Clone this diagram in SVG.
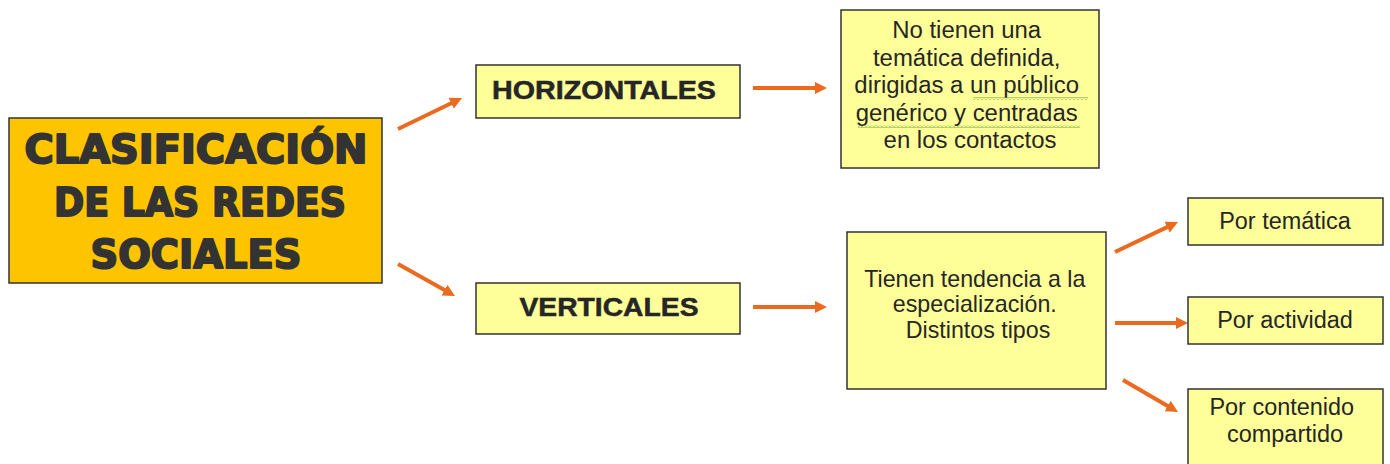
<svg xmlns="http://www.w3.org/2000/svg" width="1390" height="464" viewBox="0 0 1390 464">
<style>
.box{fill:#FFFF99;stroke:#333;stroke-width:1.5}
.main{fill:#FFC400;stroke:#333;stroke-width:1.5}
.t{font-family:"Liberation Sans",Arial,sans-serif;font-size:23px;fill:#262626;text-anchor:middle}
.b{font-family:"Liberation Sans",Arial,sans-serif;font-size:25px;font-weight:bold;fill:#262626;stroke:#262626;stroke-width:0.5;text-anchor:middle}
.h{font-family:"DejaVu Sans",sans-serif;font-size:39px;font-weight:bold;fill:#333;stroke:#333;stroke-width:2;stroke-linejoin:round;text-anchor:middle}
.arr{stroke:#EA6A1F;stroke-width:4;fill:none;marker-end:url(#ah)}
</style>
<defs>
<marker id="ah" viewBox="0 0 12 12" markerWidth="12" markerHeight="12" refX="4" refY="6" orient="auto" markerUnits="userSpaceOnUse">
<path d="M0,0 L12,6 L0,12 z" fill="#EA6A1F"/>
</marker>
<pattern id="wave" width="4" height="3" patternUnits="userSpaceOnUse">
<path d="M0,2.5 L2,0.5 L4,2.5" stroke="#5f9a2e" fill="none" stroke-width="0.9"/>
</pattern>
</defs>
<rect width="1390" height="464" fill="#fff"/>

<g id="connectors">
<line class="arr" x1="398" y1="129" x2="454.8" y2="101.5"/>
<line class="arr" x1="398" y1="264" x2="448" y2="292.1"/>
<line class="arr" x1="753" y1="88" x2="819" y2="88"/>
<line class="arr" x1="753" y1="307" x2="819" y2="307"/>
<line class="arr" x1="1115" y1="252" x2="1170.8" y2="225.4"/>
<line class="arr" x1="1115" y1="323" x2="1180" y2="323"/>
<line class="arr" x1="1123" y1="380" x2="1171.1" y2="408"/>
</g>

<g id="main">
<rect class="main" x="9" y="118" width="373" height="165"/>
<text class="h" x="196" y="163" textLength="343" lengthAdjust="spacingAndGlyphs">CLASIFICACIÓN</text>
<text class="h" x="200" y="216" textLength="292" lengthAdjust="spacingAndGlyphs">DE LAS REDES</text>
<text class="h" x="196" y="268" textLength="211" lengthAdjust="spacingAndGlyphs">SOCIALES</text>
</g>

<g id="horizontales">
<rect class="box" x="476" y="65" width="264" height="53"/>
<text class="b" x="604" y="99" textLength="224" lengthAdjust="spacingAndGlyphs">HORIZONTALES</text>
</g>

<g id="verticales">
<rect class="box" x="476" y="283" width="264" height="51"/>
<text class="b" x="609" y="316" textLength="179" lengthAdjust="spacingAndGlyphs">VERTICALES</text>
</g>

<g id="desc-horizontales">
<rect class="box" x="841" y="10" width="258" height="158"/>
<text class="t" transform="translate(970 0) scale(1.04 1)">
<tspan x="0" y="38.5">No tienen una</tspan>
<tspan x="0" y="66">temática definida,</tspan>
<tspan x="0" y="93.5">dirigidas a un público</tspan>
<tspan x="0" y="121">genérico y centradas</tspan>
<tspan x="0" y="148.5">en los contactos</tspan>
</text>
<rect x="973" y="97" width="115" height="3" fill="url(#wave)"/>
<rect x="858" y="125" width="222" height="3" fill="url(#wave)"/>
</g>

<g id="desc-verticales">
<rect class="box" x="847" y="232" width="259" height="157"/>
<text class="t" transform="translate(978 0) scale(1.01 1)">
<tspan x="0" y="287">Tienen tendencia a la</tspan>
<tspan x="0" y="312.5">especialización.</tspan>
<tspan x="0" y="338">Distintos tipos</tspan>
</text>
</g>

<g id="por-tematica">
<rect class="box" x="1188" y="198" width="195" height="47"/>
<text class="t" transform="translate(1285 0) scale(1.02 1)"><tspan x="0" y="229">Por temática</tspan></text>
</g>

<g id="por-actividad">
<rect class="box" x="1188" y="297" width="195" height="47"/>
<text class="t" transform="translate(1285 0) scale(1.02 1)"><tspan x="0" y="328">Por actividad</tspan></text>
</g>

<g id="por-contenido">
<rect class="box" x="1188" y="389" width="195" height="80"/>
<text class="t" transform="translate(1285 0) scale(1.02 1)">
<tspan x="0" y="415">Por contenido</tspan>
<tspan x="0" y="442">compartido</tspan>
</text>
</g>
</svg>
